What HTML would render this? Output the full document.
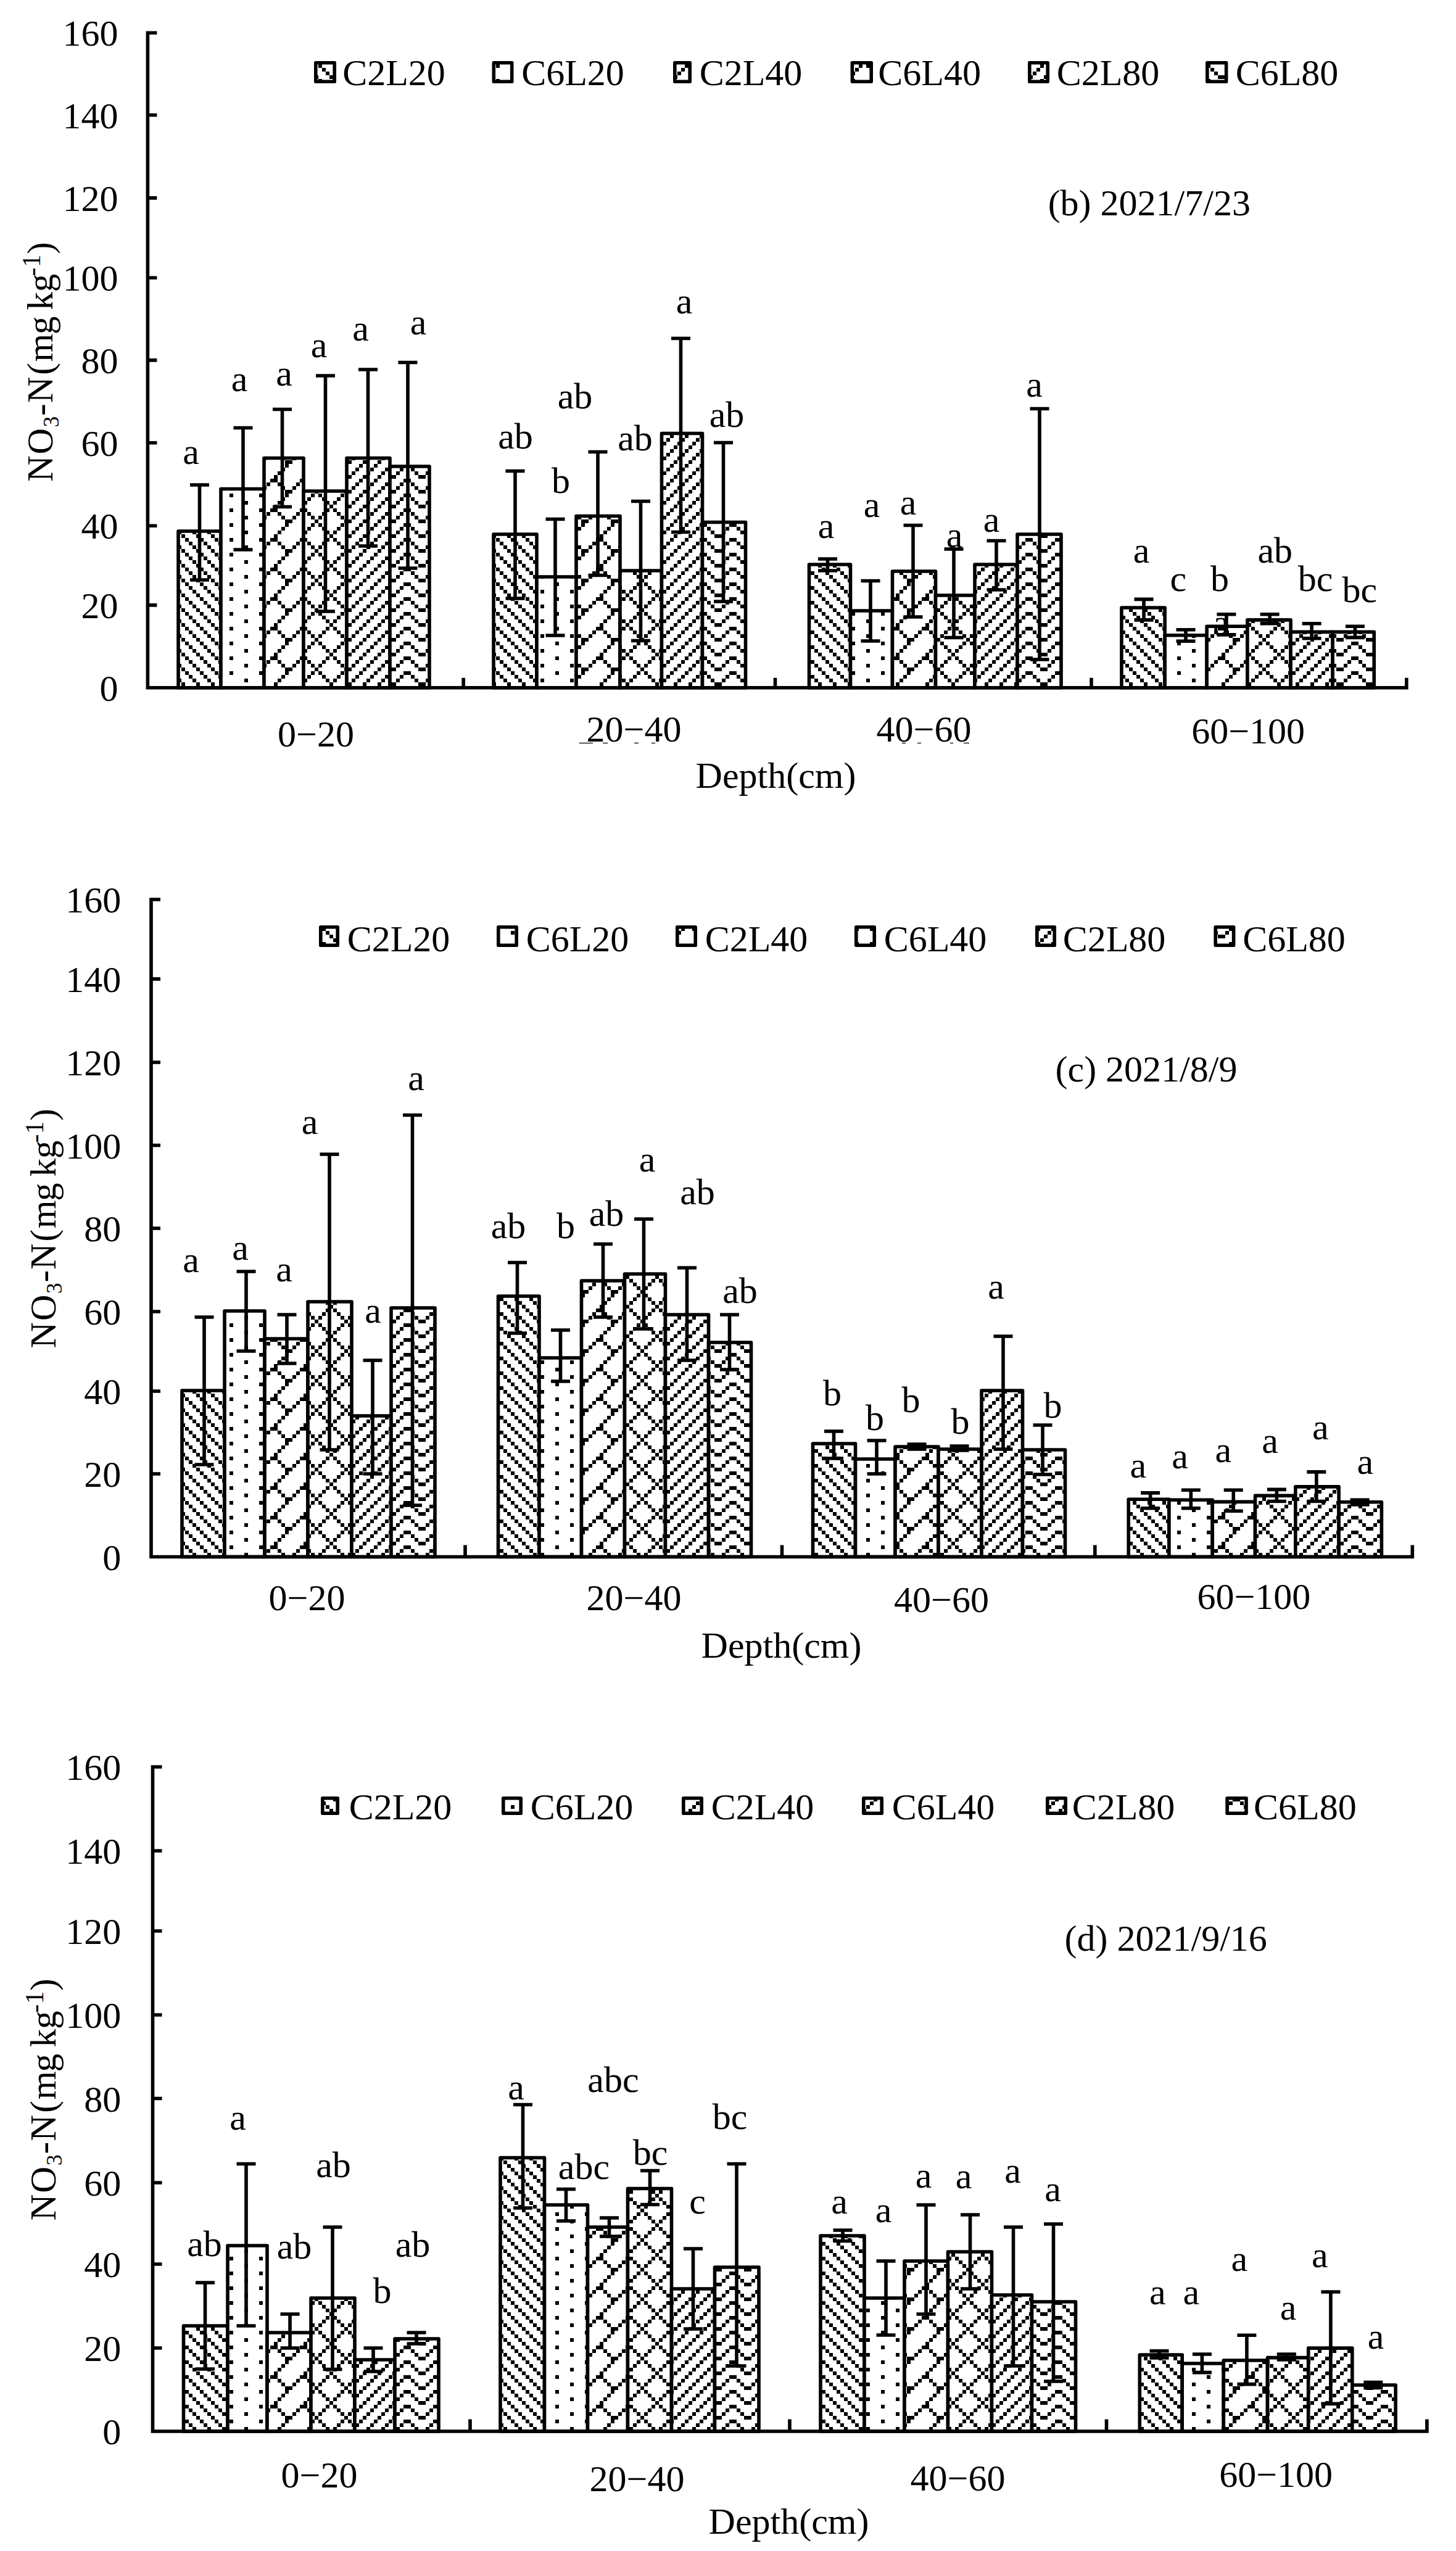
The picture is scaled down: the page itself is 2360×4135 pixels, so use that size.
<!DOCTYPE html>
<html lang="en"><head><meta charset="utf-8"><title>NO3-N by depth</title>
<style>html,body{margin:0;padding:0;background:#fff}svg{display:block}text{font-family:"Liberation Serif", serif;font-size:60px;fill:#000}</style></head><body>
<svg width="2360" height="4135" viewBox="0 0 2360 4135">
<defs>
<pattern id="p1a" patternUnits="userSpaceOnUse" x="36" y="32" width="48" height="48"><rect width="48" height="48" fill="#fff"/><path d="M0 0h6v6h-6zM24 0h6v6h-6zM6 6h6v6h-6zM30 6h6v6h-6zM12 12h6v6h-6zM36 12h6v6h-6zM18 18h6v6h-6zM42 18h6v6h-6zM0 24h6v6h-6zM24 24h6v6h-6zM6 30h6v6h-6zM30 30h6v6h-6zM12 36h6v6h-6zM36 36h6v6h-6zM18 42h6v6h-6zM42 42h6v6h-6z" fill="#000" shape-rendering="crispEdges"/></pattern>
<pattern id="p2a" patternUnits="userSpaceOnUse" x="36" y="32" width="48" height="48"><rect width="48" height="48" fill="#fff"/><path d="M0 0h6v6h-6zM24 12h6v6h-6zM0 24h6v6h-6zM24 36h6v6h-6z" fill="#000" shape-rendering="crispEdges"/></pattern>
<pattern id="p3a" patternUnits="userSpaceOnUse" x="36" y="32" width="48" height="48"><rect width="48" height="48" fill="#fff"/><path d="M42 0h6v6h-6zM36 6h6v6h-6zM30 12h6v6h-6zM24 18h6v6h-6zM18 24h12v6h-12zM12 30h6v6h-6zM30 30h6v6h-6zM6 36h6v6h-6zM36 36h6v6h-6zM0 42h6v6h-6zM42 42h6v6h-6z" fill="#000" shape-rendering="crispEdges"/></pattern>
<pattern id="p4a" patternUnits="userSpaceOnUse" x="36" y="32" width="48" height="48"><rect width="48" height="48" fill="#fff"/><path d="M0 0h6v6h-6zM36 0h6v6h-6zM6 6h6v6h-6zM30 6h6v6h-6zM12 12h6v6h-6zM24 12h6v6h-6zM18 18h6v6h-6zM12 24h6v6h-6zM24 24h6v6h-6zM6 30h6v6h-6zM30 30h6v6h-6zM0 36h6v6h-6zM36 36h6v6h-6zM42 42h6v6h-6z" fill="#000" shape-rendering="crispEdges"/></pattern>
<pattern id="p5a" patternUnits="userSpaceOnUse" x="36" y="32" width="48" height="48"><rect width="48" height="48" fill="#fff"/><path d="M18 0h6v6h-6zM42 0h6v6h-6zM12 6h6v6h-6zM36 6h6v6h-6zM6 12h6v6h-6zM30 12h6v6h-6zM0 18h6v6h-6zM24 18h6v6h-6zM18 24h6v6h-6zM42 24h6v6h-6zM12 30h6v6h-6zM36 30h6v6h-6zM6 36h6v6h-6zM30 36h6v6h-6zM0 42h6v6h-6zM24 42h6v6h-6z" fill="#000" shape-rendering="crispEdges"/></pattern>
<pattern id="p6a" patternUnits="userSpaceOnUse" x="36" y="32" width="48" height="48"><rect width="48" height="48" fill="#fff"/><path d="M0 0h6v6h-6zM42 0h6v6h-6zM6 6h6v6h-6zM36 6h6v6h-6zM12 12h6v6h-6zM30 12h6v6h-6zM18 18h12v6h-12zM0 24h6v6h-6zM42 24h6v6h-6zM6 30h6v6h-6zM36 30h6v6h-6zM12 36h6v6h-6zM30 36h6v6h-6zM18 42h12v6h-12z" fill="#000" shape-rendering="crispEdges"/></pattern>
<pattern id="p1b" patternUnits="userSpaceOnUse" x="36" y="33" width="48" height="48"><rect width="48" height="48" fill="#fff"/><path d="M0 0h6v6h-6zM24 0h6v6h-6zM6 6h6v6h-6zM30 6h6v6h-6zM12 12h6v6h-6zM36 12h6v6h-6zM18 18h6v6h-6zM42 18h6v6h-6zM0 24h6v6h-6zM24 24h6v6h-6zM6 30h6v6h-6zM30 30h6v6h-6zM12 36h6v6h-6zM36 36h6v6h-6zM18 42h6v6h-6zM42 42h6v6h-6z" fill="#000" shape-rendering="crispEdges"/></pattern>
<pattern id="p2b" patternUnits="userSpaceOnUse" x="36" y="33" width="48" height="48"><rect width="48" height="48" fill="#fff"/><path d="M0 0h6v6h-6zM24 12h6v6h-6zM0 24h6v6h-6zM24 36h6v6h-6z" fill="#000" shape-rendering="crispEdges"/></pattern>
<pattern id="p3b" patternUnits="userSpaceOnUse" x="36" y="33" width="48" height="48"><rect width="48" height="48" fill="#fff"/><path d="M42 0h6v6h-6zM36 6h6v6h-6zM30 12h6v6h-6zM24 18h6v6h-6zM18 24h12v6h-12zM12 30h6v6h-6zM30 30h6v6h-6zM6 36h6v6h-6zM36 36h6v6h-6zM0 42h6v6h-6zM42 42h6v6h-6z" fill="#000" shape-rendering="crispEdges"/></pattern>
<pattern id="p4b" patternUnits="userSpaceOnUse" x="36" y="33" width="48" height="48"><rect width="48" height="48" fill="#fff"/><path d="M0 0h6v6h-6zM36 0h6v6h-6zM6 6h6v6h-6zM30 6h6v6h-6zM12 12h6v6h-6zM24 12h6v6h-6zM18 18h6v6h-6zM12 24h6v6h-6zM24 24h6v6h-6zM6 30h6v6h-6zM30 30h6v6h-6zM0 36h6v6h-6zM36 36h6v6h-6zM42 42h6v6h-6z" fill="#000" shape-rendering="crispEdges"/></pattern>
<pattern id="p5b" patternUnits="userSpaceOnUse" x="36" y="33" width="48" height="48"><rect width="48" height="48" fill="#fff"/><path d="M18 0h6v6h-6zM42 0h6v6h-6zM12 6h6v6h-6zM36 6h6v6h-6zM6 12h6v6h-6zM30 12h6v6h-6zM0 18h6v6h-6zM24 18h6v6h-6zM18 24h6v6h-6zM42 24h6v6h-6zM12 30h6v6h-6zM36 30h6v6h-6zM6 36h6v6h-6zM30 36h6v6h-6zM0 42h6v6h-6zM24 42h6v6h-6z" fill="#000" shape-rendering="crispEdges"/></pattern>
<pattern id="p6b" patternUnits="userSpaceOnUse" x="36" y="33" width="48" height="48"><rect width="48" height="48" fill="#fff"/><path d="M0 0h6v6h-6zM42 0h6v6h-6zM6 6h6v6h-6zM36 6h6v6h-6zM12 12h6v6h-6zM30 12h6v6h-6zM18 18h12v6h-12zM0 24h6v6h-6zM42 24h6v6h-6zM6 30h6v6h-6zM36 30h6v6h-6zM12 36h6v6h-6zM30 36h6v6h-6zM18 42h12v6h-12z" fill="#000" shape-rendering="crispEdges"/></pattern>
<pattern id="p1c" patternUnits="userSpaceOnUse" x="36" y="34" width="48" height="48"><rect width="48" height="48" fill="#fff"/><path d="M0 0h6v6h-6zM24 0h6v6h-6zM6 6h6v6h-6zM30 6h6v6h-6zM12 12h6v6h-6zM36 12h6v6h-6zM18 18h6v6h-6zM42 18h6v6h-6zM0 24h6v6h-6zM24 24h6v6h-6zM6 30h6v6h-6zM30 30h6v6h-6zM12 36h6v6h-6zM36 36h6v6h-6zM18 42h6v6h-6zM42 42h6v6h-6z" fill="#000" shape-rendering="crispEdges"/></pattern>
<pattern id="p2c" patternUnits="userSpaceOnUse" x="36" y="34" width="48" height="48"><rect width="48" height="48" fill="#fff"/><path d="M0 0h6v6h-6zM24 12h6v6h-6zM0 24h6v6h-6zM24 36h6v6h-6z" fill="#000" shape-rendering="crispEdges"/></pattern>
<pattern id="p3c" patternUnits="userSpaceOnUse" x="36" y="34" width="48" height="48"><rect width="48" height="48" fill="#fff"/><path d="M42 0h6v6h-6zM36 6h6v6h-6zM30 12h6v6h-6zM24 18h6v6h-6zM18 24h12v6h-12zM12 30h6v6h-6zM30 30h6v6h-6zM6 36h6v6h-6zM36 36h6v6h-6zM0 42h6v6h-6zM42 42h6v6h-6z" fill="#000" shape-rendering="crispEdges"/></pattern>
<pattern id="p4c" patternUnits="userSpaceOnUse" x="36" y="34" width="48" height="48"><rect width="48" height="48" fill="#fff"/><path d="M0 0h6v6h-6zM36 0h6v6h-6zM6 6h6v6h-6zM30 6h6v6h-6zM12 12h6v6h-6zM24 12h6v6h-6zM18 18h6v6h-6zM12 24h6v6h-6zM24 24h6v6h-6zM6 30h6v6h-6zM30 30h6v6h-6zM0 36h6v6h-6zM36 36h6v6h-6zM42 42h6v6h-6z" fill="#000" shape-rendering="crispEdges"/></pattern>
<pattern id="p5c" patternUnits="userSpaceOnUse" x="36" y="34" width="48" height="48"><rect width="48" height="48" fill="#fff"/><path d="M18 0h6v6h-6zM42 0h6v6h-6zM12 6h6v6h-6zM36 6h6v6h-6zM6 12h6v6h-6zM30 12h6v6h-6zM0 18h6v6h-6zM24 18h6v6h-6zM18 24h6v6h-6zM42 24h6v6h-6zM12 30h6v6h-6zM36 30h6v6h-6zM6 36h6v6h-6zM30 36h6v6h-6zM0 42h6v6h-6zM24 42h6v6h-6z" fill="#000" shape-rendering="crispEdges"/></pattern>
<pattern id="p6c" patternUnits="userSpaceOnUse" x="36" y="34" width="48" height="48"><rect width="48" height="48" fill="#fff"/><path d="M0 0h6v6h-6zM42 0h6v6h-6zM6 6h6v6h-6zM36 6h6v6h-6zM12 12h6v6h-6zM30 12h6v6h-6zM18 18h12v6h-12zM0 24h6v6h-6zM42 24h6v6h-6zM6 30h6v6h-6zM36 30h6v6h-6zM12 36h6v6h-6zM30 36h6v6h-6zM18 42h12v6h-12z" fill="#000" shape-rendering="crispEdges"/></pattern>
</defs>
<rect width="2360" height="4135" fill="#fff"/>
<g id="chart-a">
<g stroke="#000" stroke-width="5.6" stroke-linejoin="round">
<rect x="289" y="861" width="69" height="253.8" fill="url(#p1a)"/>
<rect x="358" y="792.5" width="70" height="322.3" fill="url(#p2a)"/>
<rect x="428" y="742.5" width="64" height="372.3" fill="url(#p3a)"/>
<rect x="492" y="796" width="70" height="318.8" fill="url(#p4a)"/>
<rect x="562" y="742.5" width="70" height="372.3" fill="url(#p5a)"/>
<rect x="632" y="756" width="64" height="358.8" fill="url(#p6a)"/>
<rect x="800" y="866" width="70" height="248.8" fill="url(#p1a)"/>
<rect x="870" y="935" width="64" height="179.8" fill="url(#p2a)"/>
<rect x="934" y="836.5" width="71" height="278.3" fill="url(#p3a)"/>
<rect x="1005" y="925" width="67.5" height="189.8" fill="url(#p4a)"/>
<rect x="1072.5" y="702.5" width="66" height="412.3" fill="url(#p5a)"/>
<rect x="1138.5" y="846.5" width="70" height="268.3" fill="url(#p6a)"/>
<rect x="1311.5" y="915" width="67" height="199.8" fill="url(#p1a)"/>
<rect x="1378.5" y="990" width="68" height="124.8" fill="url(#p2a)"/>
<rect x="1446.5" y="926" width="70" height="188.8" fill="url(#p3a)"/>
<rect x="1516.5" y="965" width="63.5" height="149.8" fill="url(#p4a)"/>
<rect x="1580" y="915" width="69" height="199.8" fill="url(#p5a)"/>
<rect x="1649" y="866" width="71" height="248.8" fill="url(#p6a)"/>
<rect x="1817.9" y="985" width="70.2" height="129.8" fill="url(#p1a)"/>
<rect x="1888.1" y="1029.8" width="68" height="85" fill="url(#p2a)"/>
<rect x="1956.1" y="1015.3" width="65.8" height="99.5" fill="url(#p3a)"/>
<rect x="2021.9" y="1004.9" width="70.2" height="109.9" fill="url(#p4a)"/>
<rect x="2092.1" y="1024.4" width="68" height="90.4" fill="url(#p5a)"/>
<rect x="2160.1" y="1024.4" width="67.1" height="90.4" fill="url(#p6a)"/>
</g>
<path d="M323.5 786V940M308 786H339M308 940H339M394 693.5V891M378.5 693.5H409.5M378.5 891H409.5M457.5 663.5V821.5M442 663.5H473M442 821.5H473M527.5 609V991M512 609H543M512 991H543M596.5 599V885M581 599H612M581 885H612M661 587.5V921M645.5 587.5H676.5M645.5 921H676.5M835 763.5V970M819.5 763.5H850.5M819.5 970H850.5M900 841.5V1030M884.5 841.5H915.5M884.5 1030H915.5M969 732.5V932.5M953.5 732.5H984.5M953.5 932.5H984.5M1038.5 812.5V1038.5M1023 812.5H1054M1023 1038.5H1054M1103.5 548.5V862.5M1088 548.5H1119M1088 862.5H1119M1172.5 717.5V975M1157 717.5H1188M1157 975H1188M1341.5 906V925M1326 906H1357M1326 925H1357M1411 941.5V1039M1395.5 941.5H1426.5M1395.5 1039H1426.5M1480 851.5V1000M1464.5 851.5H1495.5M1464.5 1000H1495.5M1546 890V1033.5M1530.5 890H1561.5M1530.5 1033.5H1561.5M1615 876.5V956M1599.5 876.5H1630.5M1599.5 956H1630.5M1685 662.5V1069M1669.5 662.5H1700.5M1669.5 1069H1700.5M1854 971.4V1004.9M1838.5 971.4H1869.5M1838.5 1004.9H1869.5M1922 1020.8V1039.3M1906.5 1020.8H1937.5M1906.5 1039.3H1937.5M1987.9 995.8V1028.9M1972.4 995.8H2003.4M1972.4 1028.9H2003.4M2058.1 995.8V1010.8M2042.6 995.8H2073.6M2042.6 1010.8H2073.6M2126.1 1010.8V1034.8M2110.6 1010.8H2141.6M2110.6 1034.8H2141.6M2196.4 1015.3V1033.4M2180.9 1015.3H2211.9M2180.9 1033.4H2211.9" stroke="#000" stroke-width="5.6" fill="none"/>
<path d="M239.4 50.5V1114.8H2282.6M239.4 53.3h15M239.4 186.5h15M239.4 320.9h15M239.4 450.2h15M239.4 583.9h15M239.4 717.8h15M239.4 852.3h15M239.4 980.9h15M751.2 1114.8v-16M1256.5 1114.8v-16M1769 1114.8v-16M2279.8 1114.8v-16" stroke="#000" stroke-width="5.6" fill="none" stroke-linejoin="miter"/>
<g text-anchor="end">
<text x="191.5" y="74.3">160</text>
<text x="191.5" y="207.5">140</text>
<text x="191.5" y="341.9">120</text>
<text x="191.5" y="471.2">100</text>
<text x="191.5" y="604.9">80</text>
<text x="191.5" y="738.8">60</text>
<text x="191.5" y="873.3">40</text>
<text x="191.5" y="1001.9">20</text>
<text x="191.5" y="1135.8">0</text>
</g>
<g text-anchor="middle">
<text x="309.5" y="751.8">a</text>
<text x="388" y="634.3">a</text>
<text x="460.5" y="625.3">a</text>
<text x="517" y="579.3">a</text>
<text x="584.5" y="551.8">a</text>
<text x="678" y="541.8">a</text>
<text x="835.5" y="726.8">ab</text>
<text x="909" y="799.3">b</text>
<text x="932" y="661.8">ab</text>
<text x="1029.5" y="730.3">ab</text>
<text x="1109" y="507.8">a</text>
<text x="1178" y="691.8">ab</text>
<text x="1339" y="871.8">a</text>
<text x="1413" y="837.8">a</text>
<text x="1472" y="834.3">a</text>
<text x="1547" y="886.8">a</text>
<text x="1607" y="861.8">a</text>
<text x="1676.5" y="642.8">a</text>
<text x="1850.1" y="912">a</text>
<text x="1909.9" y="958.2">c</text>
<text x="1977" y="958.2">b</text>
<text x="2066.8" y="912">ab</text>
<text x="2132.1" y="958.2">bc</text>
<text x="2203.7" y="976.3">bc</text>
<text x="1979.3" y="1028.5">a</text>
<text x="512" y="1210">0−20</text>
<text x="1027.5" y="1202">20−40</text>
<text x="1497.5" y="1202">40−60</text>
<text x="2023.2" y="1204.8">60−100</text>
<text x="1257.5" y="1277">Depth(cm)</text>
<text x="1862.8" y="348.5">(b) 2021/7/23</text>
</g>
<rect x="511.8" y="101.8" width="30.4" height="30.4" fill="url(#p1a)" stroke="#000" stroke-width="5.6" stroke-linejoin="round"/>
<text x="555.2" y="138">C2L20</text>
<rect x="800.3" y="101.8" width="29.4" height="30.4" fill="url(#p2a)" stroke="#000" stroke-width="5.6" stroke-linejoin="round"/>
<text x="845.2" y="138">C6L20</text>
<rect x="1093.8" y="101.8" width="24.4" height="30.4" fill="url(#p3a)" stroke="#000" stroke-width="5.6" stroke-linejoin="round"/>
<text x="1133.7" y="138">C2L40</text>
<rect x="1381.4" y="101.8" width="30.8" height="30.4" fill="url(#p4a)" stroke="#000" stroke-width="5.6" stroke-linejoin="round"/>
<text x="1423.3" y="138">C6L40</text>
<rect x="1668.8" y="101.8" width="29.4" height="30.4" fill="url(#p5a)" stroke="#000" stroke-width="5.6" stroke-linejoin="round"/>
<text x="1712.7" y="138">C2L80</text>
<rect x="1956.8" y="101.8" width="30.8" height="30.4" fill="url(#p6a)" stroke="#000" stroke-width="5.6" stroke-linejoin="round"/>
<text x="2002.7" y="138">C6L80</text>
<text transform="translate(84.5 781) rotate(-90) scale(0.9807 1)" x="0" y="0">N<tspan dx="2">O</tspan><tspan font-size="36" dy="10.3" dx="1.7">3</tspan><tspan dy="-10.3" dx="0.8">-</tspan><tspan dx="1.1">N</tspan><tspan dx="3.1">(</tspan><tspan dx="1.6">m</tspan><tspan dx="-1.3">g</tspan> <tspan dx="-4.6">k</tspan><tspan dx="-0.2">g</tspan><tspan font-size="42" dy="-20" dx="-3.6">-</tspan><tspan font-size="42" dx="0.6">1</tspan><tspan dy="20" dx="0.6">)</tspan></text>
<path d="M939 1204.5H961M977 1204.5H985M1028 1204.5H1035M1056 1204.5H1062M1462 1204.5H1468M1487 1204.5H1493M1540 1204.5H1545M1562 1204.5H1571" stroke="#222" stroke-width="1.3" fill="none"/>
</g>
<g id="chart-b">
<g stroke="#000" stroke-width="5.6" stroke-linejoin="round">
<rect x="295" y="2254" width="69" height="269.5" fill="url(#p1b)"/>
<rect x="364" y="2125" width="65" height="398.5" fill="url(#p2b)"/>
<rect x="429" y="2170" width="70" height="353.5" fill="url(#p3b)"/>
<rect x="499" y="2110" width="71" height="413.5" fill="url(#p4b)"/>
<rect x="570" y="2295" width="64" height="228.5" fill="url(#p5b)"/>
<rect x="634" y="2120" width="71" height="403.5" fill="url(#p6b)"/>
<rect x="807.5" y="2101" width="66.5" height="422.5" fill="url(#p1b)"/>
<rect x="874" y="2201" width="68.5" height="322.5" fill="url(#p2b)"/>
<rect x="942.5" y="2076" width="70" height="447.5" fill="url(#p3b)"/>
<rect x="1012.5" y="2065" width="66" height="458.5" fill="url(#p4b)"/>
<rect x="1078.5" y="2131" width="70" height="392.5" fill="url(#p5b)"/>
<rect x="1148.5" y="2176" width="69" height="347.5" fill="url(#p6b)"/>
<rect x="1317.5" y="2340" width="69" height="183.5" fill="url(#p1b)"/>
<rect x="1386.5" y="2365" width="64.5" height="158.5" fill="url(#p2b)"/>
<rect x="1451" y="2345" width="70" height="178.5" fill="url(#p3b)"/>
<rect x="1521" y="2349" width="70" height="174.5" fill="url(#p4b)"/>
<rect x="1591" y="2254" width="66.5" height="269.5" fill="url(#p5b)"/>
<rect x="1657.5" y="2350" width="69" height="173.5" fill="url(#p6b)"/>
<rect x="1829.2" y="2430.3" width="65.7" height="93.2" fill="url(#p1b)"/>
<rect x="1894.9" y="2431.2" width="70.3" height="92.3" fill="url(#p2b)"/>
<rect x="1965.2" y="2434.4" width="69.3" height="89.1" fill="url(#p3b)"/>
<rect x="2034.5" y="2424.4" width="65.3" height="99.1" fill="url(#p4b)"/>
<rect x="2099.8" y="2409.9" width="70.3" height="113.6" fill="url(#p5b)"/>
<rect x="2170.1" y="2434.8" width="69.3" height="88.7" fill="url(#p6b)"/>
</g>
<path d="M331 2135V2374M315.5 2135H346.5M315.5 2374H346.5M399 2061V2190M383.5 2061H414.5M383.5 2190H414.5M465 2131V2210M449.5 2131H480.5M449.5 2210H480.5M534 1871V2350M518.5 1871H549.5M518.5 2350H549.5M604 2205V2389M588.5 2205H619.5M588.5 2389H619.5M668.5 1807.5V2440M653 1807.5H684M653 2440H684M838.5 2046.5V2161M823 2046.5H854M823 2161H854M908.5 2156V2239M893 2156H924M893 2239H924M977.5 2016.5V2135M962 2016.5H993M962 2135H993M1043.5 1976V2154M1028 1976H1059M1028 2154H1059M1113.5 2055V2205M1098 2055H1129M1098 2205H1129M1182.5 2131V2220M1167 2131H1198M1167 2220H1198M1351.5 2320V2364M1336 2320H1367M1336 2364H1367M1421 2335V2389M1405.5 2335H1436.5M1405.5 2389H1436.5M1486 2341V2349M1470.5 2341H1501.5M1470.5 2349H1501.5M1555 2344V2351M1539.5 2344H1570.5M1539.5 2351H1570.5M1626 2166V2349M1610.5 2166H1641.5M1610.5 2349H1641.5M1690 2310V2390M1674.5 2310H1705.5M1674.5 2390H1705.5M1864.6 2419.9V2444.8M1849.1 2419.9H1880.1M1849.1 2444.8H1880.1M1930.3 2415.3V2444.8M1914.8 2415.3H1945.8M1914.8 2444.8H1945.8M1999.2 2415.3V2449.3M1983.7 2415.3H2014.7M1983.7 2449.3H2014.7M2069.4 2414.4V2433.5M2053.9 2414.4H2084.9M2053.9 2433.5H2084.9M2133.8 2385.9V2433.5M2118.3 2385.9H2149.3M2118.3 2433.5H2149.3M2204.1 2431.2V2438.9M2188.6 2431.2H2219.6M2188.6 2438.9H2219.6" stroke="#000" stroke-width="5.6" fill="none"/>
<path d="M245 1455.2V2523.5H2292.1M245 1458h15M245 1586.9h15M245 1722h15M245 1856.5h15M245 1991h15M245 2126h15M245 2255h15M245 2389h15M754 2523.5v-19M1267.5 2523.5v-19M1774.8 2523.5v-19M2289.3 2523.5v-19" stroke="#000" stroke-width="5.6" fill="none" stroke-linejoin="miter"/>
<g text-anchor="end">
<text x="196.3" y="1479">160</text>
<text x="196.3" y="1607.9">140</text>
<text x="196.3" y="1743">120</text>
<text x="196.3" y="1877.5">100</text>
<text x="196.3" y="2012">80</text>
<text x="196.3" y="2147">60</text>
<text x="196.3" y="2276">40</text>
<text x="196.3" y="2410">20</text>
<text x="196.3" y="2544.5">0</text>
</g>
<g text-anchor="middle">
<text x="309.5" y="2061.8">a</text>
<text x="389.5" y="2041.8">a</text>
<text x="460.5" y="2076.8">a</text>
<text x="502" y="1837.8">a</text>
<text x="604.5" y="2144.3">a</text>
<text x="674.5" y="1766.8">a</text>
<text x="824" y="2006.8">ab</text>
<text x="917" y="2006.8">b</text>
<text x="983" y="1986.8">ab</text>
<text x="1049" y="1899.3">a</text>
<text x="1130.5" y="1951.8">ab</text>
<text x="1199.5" y="2111.8">ab</text>
<text x="1349" y="2277.8">b</text>
<text x="1418" y="2317.8">b</text>
<text x="1476.5" y="2289.3">b</text>
<text x="1556.5" y="2324.3">b</text>
<text x="1614.5" y="2105.3">a</text>
<text x="1706.5" y="2297.8">b</text>
<text x="1844.7" y="2394.5">a</text>
<text x="1912.6" y="2380">a</text>
<text x="1982.9" y="2370.4">a</text>
<text x="2058.6" y="2354.6">a</text>
<text x="2140.2" y="2333.3">a</text>
<text x="2212.7" y="2388.6">a</text>
<text x="497.5" y="2610">0−20</text>
<text x="1027.5" y="2610">20−40</text>
<text x="1526" y="2613">40−60</text>
<text x="2032.3" y="2608">60−100</text>
<text x="1266.5" y="2687">Depth(cm)</text>
<text x="1858" y="1752.5">(c) 2021/8/9</text>
</g>
<rect x="519.8" y="1502.8" width="27.4" height="29.4" fill="url(#p1b)" stroke="#000" stroke-width="5.6" stroke-linejoin="round"/>
<text x="562.7" y="1542">C2L20</text>
<rect x="807.8" y="1502.8" width="29.4" height="29.4" fill="url(#p2b)" stroke="#000" stroke-width="5.6" stroke-linejoin="round"/>
<text x="852.7" y="1542">C6L20</text>
<rect x="1097.8" y="1502.8" width="29.4" height="29.4" fill="url(#p3b)" stroke="#000" stroke-width="5.6" stroke-linejoin="round"/>
<text x="1142.7" y="1542">C2L40</text>
<rect x="1387.8" y="1502.8" width="29.4" height="29.4" fill="url(#p4b)" stroke="#000" stroke-width="5.6" stroke-linejoin="round"/>
<text x="1432.7" y="1542">C6L40</text>
<rect x="1680.8" y="1502.8" width="28.4" height="29.4" fill="url(#p5b)" stroke="#000" stroke-width="5.6" stroke-linejoin="round"/>
<text x="1722.7" y="1542">C2L80</text>
<rect x="1970.2" y="1502.8" width="29.4" height="29.4" fill="url(#p6b)" stroke="#000" stroke-width="5.6" stroke-linejoin="round"/>
<text x="2014.2" y="1542">C6L80</text>
<text transform="translate(89.6 2185.5) rotate(-90) scale(0.9797 1)" x="0" y="0">N<tspan dx="2">O</tspan><tspan font-size="36" dy="10.3" dx="1.7">3</tspan><tspan dy="-10.3" dx="0.8">-</tspan><tspan dx="1.1">N</tspan><tspan dx="3.1">(</tspan><tspan dx="1.6">m</tspan><tspan dx="-1.3">g</tspan> <tspan dx="-4.6">k</tspan><tspan dx="-0.2">g</tspan><tspan font-size="42" dy="-20" dx="-3.6">-</tspan><tspan font-size="42" dx="0.6">1</tspan><tspan dy="20" dx="0.6">)</tspan></text>
</g>
<g id="chart-c">
<g stroke="#000" stroke-width="5.6" stroke-linejoin="round">
<rect x="297.5" y="3770" width="71.5" height="171" fill="url(#p1c)"/>
<rect x="369" y="3640" width="64" height="301" fill="url(#p2c)"/>
<rect x="433" y="3781" width="71" height="160" fill="url(#p3c)"/>
<rect x="504" y="3725" width="71" height="216" fill="url(#p4c)"/>
<rect x="575" y="3825" width="65" height="116" fill="url(#p5c)"/>
<rect x="640" y="3791" width="71" height="150" fill="url(#p6c)"/>
<rect x="811" y="3497.5" width="71.5" height="443.5" fill="url(#p1c)"/>
<rect x="882.5" y="3574" width="70" height="367" fill="url(#p2c)"/>
<rect x="952.5" y="3610" width="65" height="331" fill="url(#p3c)"/>
<rect x="1017.5" y="3547.5" width="71" height="393.5" fill="url(#p4c)"/>
<rect x="1088.5" y="3710" width="70" height="231" fill="url(#p5c)"/>
<rect x="1158.5" y="3675" width="71.5" height="266" fill="url(#p6c)"/>
<rect x="1330" y="3624" width="71" height="317" fill="url(#p1c)"/>
<rect x="1401" y="3725" width="65" height="216" fill="url(#p2c)"/>
<rect x="1466" y="3665" width="70.5" height="276" fill="url(#p3c)"/>
<rect x="1536.5" y="3650" width="71" height="291" fill="url(#p4c)"/>
<rect x="1607.5" y="3720" width="65" height="221" fill="url(#p5c)"/>
<rect x="1672.5" y="3731" width="71" height="210" fill="url(#p6c)"/>
<rect x="1847.3" y="3817" width="68.9" height="124" fill="url(#p1c)"/>
<rect x="1916.2" y="3831" width="67.1" height="110" fill="url(#p2c)"/>
<rect x="1983.3" y="3826" width="71.2" height="115" fill="url(#p3c)"/>
<rect x="2054.5" y="3821.6" width="66.2" height="119.4" fill="url(#p4c)"/>
<rect x="2120.7" y="3806.1" width="71.1" height="134.9" fill="url(#p5c)"/>
<rect x="2191.8" y="3866" width="70.3" height="75" fill="url(#p6c)"/>
</g>
<path d="M332.5 3700V3840M317 3700H348M317 3840H348M399 3507.5V3770M383.5 3507.5H414.5M383.5 3770H414.5M470 3751V3806M454.5 3751H485.5M454.5 3806H485.5M539 3610V3840.5M523.5 3610H554.5M523.5 3840.5H554.5M605 3806V3844M589.5 3806H620.5M589.5 3844H620.5M675 3781V3799M659.5 3781H690.5M659.5 3799H690.5M847.5 3411.5V3579M832 3411.5H863M832 3579H863M917.5 3548.5V3600M902 3548.5H933M902 3600H933M987.5 3595V3625M972 3595H1003M972 3625H1003M1053.5 3518.5V3573.5M1038 3518.5H1069M1038 3573.5H1069M1123.5 3645V3775M1108 3645H1139M1108 3775H1139M1194 3507.5V3835M1178.5 3507.5H1209.5M1178.5 3835H1209.5M1366 3615V3632.5M1350.5 3615H1381.5M1350.5 3632.5H1381.5M1436 3665V3785M1420.5 3665H1451.5M1420.5 3785H1451.5M1501 3574V3751M1485.5 3574H1516.5M1485.5 3751H1516.5M1572.5 3590V3710M1557 3590H1588M1557 3710H1588M1642.5 3610V3835M1627 3610H1658M1627 3835H1658M1707.5 3605V3860M1692 3605H1723M1692 3860H1723M1879 3810.7V3822M1863.5 3810.7H1894.5M1863.5 3822H1894.5M1948.4 3816V3845.6M1932.9 3816H1963.9M1932.9 3845.6H1963.9M2020.9 3785.3V3864.6M2005.4 3785.3H2036.4M2005.4 3864.6H2036.4M2085.3 3816V3825M2069.8 3816H2100.8M2069.8 3825H2100.8M2156.9 3715V3896.4M2141.4 3715H2172.4M2141.4 3896.4H2172.4M2225.8 3861.5V3870.5M2210.3 3861.5H2241.3M2210.3 3870.5H2241.3" stroke="#000" stroke-width="5.6" fill="none"/>
<path d="M247.5 2861.2V3941H2315.7M247.5 2864h15M247.5 3000h15M247.5 3130h15M247.5 3266h15M247.5 3401.5h15M247.5 3538h15M247.5 3670h15M247.5 3806h15M762 3941v-19.5M1280 3941v-19.5M1793.5 3941v-19.5M2312.9 3941v-19.5" stroke="#000" stroke-width="5.6" fill="none" stroke-linejoin="miter"/>
<g text-anchor="end">
<text x="196.3" y="2885">160</text>
<text x="196.3" y="3021">140</text>
<text x="196.3" y="3151">120</text>
<text x="196.3" y="3287">100</text>
<text x="196.3" y="3422.5">80</text>
<text x="196.3" y="3559">60</text>
<text x="196.3" y="3691">40</text>
<text x="196.3" y="3827">20</text>
<text x="196.3" y="3962">0</text>
</g>
<g text-anchor="middle">
<text x="331.5" y="3656.8">ab</text>
<text x="385.5" y="3451.8">a</text>
<text x="477" y="3660.8">ab</text>
<text x="540.5" y="3529.3">ab</text>
<text x="619.5" y="3732.8">b</text>
<text x="669" y="3657.8">ab</text>
<text x="836.5" y="3402.8">a</text>
<text x="994" y="3390.8">abc</text>
<text x="946.5" y="3531.8">abc</text>
<text x="1054" y="3509.3">bc</text>
<text x="1130.5" y="3587.8">c</text>
<text x="1183" y="3450.8">bc</text>
<text x="1360.5" y="3587.8">a</text>
<text x="1432" y="3601.8">a</text>
<text x="1497" y="3545.8">a</text>
<text x="1562" y="3546.8">a</text>
<text x="1641.5" y="3537.8">a</text>
<text x="1706.5" y="3568.3">a</text>
<text x="1876.4" y="3735">a</text>
<text x="1930.8" y="3735">a</text>
<text x="2008.8" y="3680.6">a</text>
<text x="2088.1" y="3759.9">a</text>
<text x="2139.3" y="3675.1">a</text>
<text x="2230" y="3806.6">a</text>
<text x="517.5" y="4032">0−20</text>
<text x="1032.5" y="4038">20−40</text>
<text x="1552.5" y="4037">40−60</text>
<text x="2068.1" y="4030.5">60−100</text>
<text x="1278.5" y="4107">Depth(cm)</text>
<text x="1889.7" y="3161.7">(d) 2021/9/16</text>
</g>
<rect x="522.8" y="2914.8" width="24.4" height="24.4" fill="url(#p1c)" stroke="#000" stroke-width="5.6" stroke-linejoin="round"/>
<text x="565.7" y="2949">C2L20</text>
<rect x="815.8" y="2914.8" width="28.4" height="24.4" fill="url(#p2c)" stroke="#000" stroke-width="5.6" stroke-linejoin="round"/>
<text x="859.7" y="2949">C6L20</text>
<rect x="1107.8" y="2914.8" width="29.4" height="24.4" fill="url(#p3c)" stroke="#000" stroke-width="5.6" stroke-linejoin="round"/>
<text x="1152.7" y="2949">C2L40</text>
<rect x="1399.8" y="2914.8" width="29.4" height="24.4" fill="url(#p4c)" stroke="#000" stroke-width="5.6" stroke-linejoin="round"/>
<text x="1445.7" y="2949">C6L40</text>
<rect x="1697.8" y="2914.8" width="29.4" height="24.4" fill="url(#p5c)" stroke="#000" stroke-width="5.6" stroke-linejoin="round"/>
<text x="1737.7" y="2949">C2L80</text>
<rect x="1989.1" y="2914.8" width="30.9" height="24.4" fill="url(#p6c)" stroke="#000" stroke-width="5.6" stroke-linejoin="round"/>
<text x="2032" y="2949">C6L80</text>
<text transform="translate(89.6 3599.6) rotate(-90) scale(0.9901 1)" x="0" y="0">N<tspan dx="2">O</tspan><tspan font-size="36" dy="10.3" dx="1.7">3</tspan><tspan dy="-10.3" dx="0.8">-</tspan><tspan dx="1.1">N</tspan><tspan dx="3.1">(</tspan><tspan dx="1.6">m</tspan><tspan dx="-1.3">g</tspan> <tspan dx="-4.6">k</tspan><tspan dx="-0.2">g</tspan><tspan font-size="42" dy="-20" dx="-3.6">-</tspan><tspan font-size="42" dx="0.6">1</tspan><tspan dy="20" dx="0.6">)</tspan></text>
</g>
</svg></body></html>
